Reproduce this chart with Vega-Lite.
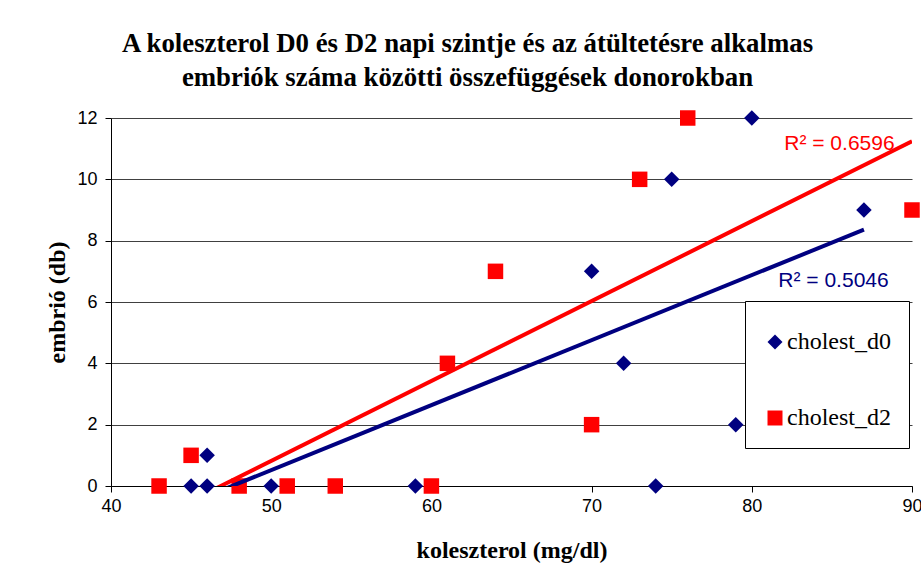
{
  "$schema": "https://vega.github.io/schema/vega-lite/v6.json",
  "width": 801,
  "height": 368,
  "autosize": {"type": "none"},
  "padding": {"left": 111, "top": 118, "right": 9, "bottom": 83},
  "background": "white",
  "title": {
    "text": ["A koleszterol D0 és D2 napi szintje és az átültetésre alkalmas", "embriók száma közötti összefüggések donorokban"],
    "font": "Liberation Serif",
    "fontSize": 26.8,
    "fontWeight": "bold",
    "lineHeight": 34,
    "anchor": "middle",
    "dx": -44,
    "offset": 17,
    "color": "black"
  },
  "config": {
    "view": {"stroke": null},
    "axis": {
      "labelFont": "Liberation Sans",
      "labelFontSize": 18,
      "labelColor": "black",
      "titleFont": "Liberation Serif",
      "titleFontSize": 24,
      "titleFontWeight": "bold",
      "titleColor": "black",
      "domainColor": "black",
      "domainWidth": 1,
      "tickColor": "black",
      "tickSize": 6,
      "labelOverlap": false,
      "labelFlush": false
    }
  },
  "datasets": {
    "points": [
      {"series": "cholest_d0", "x": 45, "y": 0},
      {"series": "cholest_d0", "x": 46, "y": 0},
      {"series": "cholest_d0", "x": 46, "y": 1},
      {"series": "cholest_d0", "x": 50, "y": 0},
      {"series": "cholest_d0", "x": 59, "y": 0},
      {"series": "cholest_d0", "x": 70, "y": 7},
      {"series": "cholest_d0", "x": 72, "y": 4},
      {"series": "cholest_d0", "x": 74, "y": 0},
      {"series": "cholest_d0", "x": 75, "y": 10},
      {"series": "cholest_d0", "x": 79, "y": 2},
      {"series": "cholest_d0", "x": 80, "y": 12},
      {"series": "cholest_d0", "x": 87, "y": 9},
      {"series": "cholest_d2", "x": 43, "y": 0},
      {"series": "cholest_d2", "x": 45, "y": 1},
      {"series": "cholest_d2", "x": 48, "y": 0},
      {"series": "cholest_d2", "x": 51, "y": 0},
      {"series": "cholest_d2", "x": 54, "y": 0},
      {"series": "cholest_d2", "x": 60, "y": 0},
      {"series": "cholest_d2", "x": 61, "y": 4},
      {"series": "cholest_d2", "x": 64, "y": 7},
      {"series": "cholest_d2", "x": 70, "y": 2},
      {"series": "cholest_d2", "x": 73, "y": 10},
      {"series": "cholest_d2", "x": 76, "y": 12},
      {"series": "cholest_d2", "x": 90, "y": 9}
    ],
    "labels": [
      {"series": "cholest_d2", "label": "R² = 0.6596", "x": 85.47, "y": 10.96},
      {"series": "cholest_d0", "label": "R² = 0.5046", "x": 85.1, "y": 6.49}
    ]
  },
  "layer": [
    {
      "data": {"name": "points"},
      "mark": {"type": "point", "filled": true, "opacity": 1, "size": 240},
      "encoding": {
        "x": {
          "field": "x", "type": "quantitative",
          "scale": {"domain": [40, 90], "nice": false, "zero": false},
          "axis": {"title": "koleszterol (mg/dl)", "values": [40, 50, 60, 70, 80, 90], "grid": false, "labelPadding": 5, "titlePadding": 23}
        },
        "y": {
          "field": "y", "type": "quantitative",
          "scale": {"domain": [0, 12], "nice": false},
          "axis": {"title": "embrió (db)", "values": [0, 2, 4, 6, 8, 10, 12], "grid": true, "gridColor": "black", "gridOpacity": 0.75, "labelPadding": 8, "titlePadding": 7}
        },
        "color": {
          "field": "series", "type": "nominal",
          "scale": {"domain": ["cholest_d0", "cholest_d2"], "range": ["#000080", "#FF0000"]},
          "legend": {
            "orient": "none", "legendX": 634, "legendY": 183, "title": " ",
            "titleFontSize": 1, "titlePadding": 10,
            "padding": 18, "strokeColor": "black", "fillColor": "white",
            "labelFont": "Liberation Serif", "labelFontSize": 24, "labelColor": "black",
            "symbolSize": 225, "rowPadding": 52, "labelOffset": 0, "symbolStrokeWidth": 0
          }
        },
        "shape": {
          "field": "series", "type": "nominal",
          "scale": {"domain": ["cholest_d0", "cholest_d2"], "range": ["diamond", "square"]}
        }
      }
    },
    {
      "data": {"name": "points"},
      "transform": [{"regression": "y", "on": "x", "groupby": ["series"]}],
      "mark": {"type": "line", "strokeWidth": 4, "clip": true},
      "encoding": {
        "x": {"field": "x", "type": "quantitative"},
        "y": {"field": "y", "type": "quantitative"},
        "stroke": {
          "field": "series", "type": "nominal",
          "scale": {"domain": ["cholest_d0", "cholest_d2"], "range": ["#000080", "#FF0000"]},
          "legend": null
        }
      }
    },
    {
      "data": {"name": "labels"},
      "mark": {"type": "text", "font": "Liberation Sans", "fontSize": 21, "align": "center", "baseline": "alphabetic"},
      "encoding": {
        "x": {"field": "x", "type": "quantitative"},
        "y": {"field": "y", "type": "quantitative"},
        "text": {"field": "label"},
        "fill": {
          "field": "series", "type": "nominal",
          "scale": {"domain": ["cholest_d0", "cholest_d2"], "range": ["#000080", "#FF0000"]},
          "legend": null
        }
      }
    }
  ]
}
